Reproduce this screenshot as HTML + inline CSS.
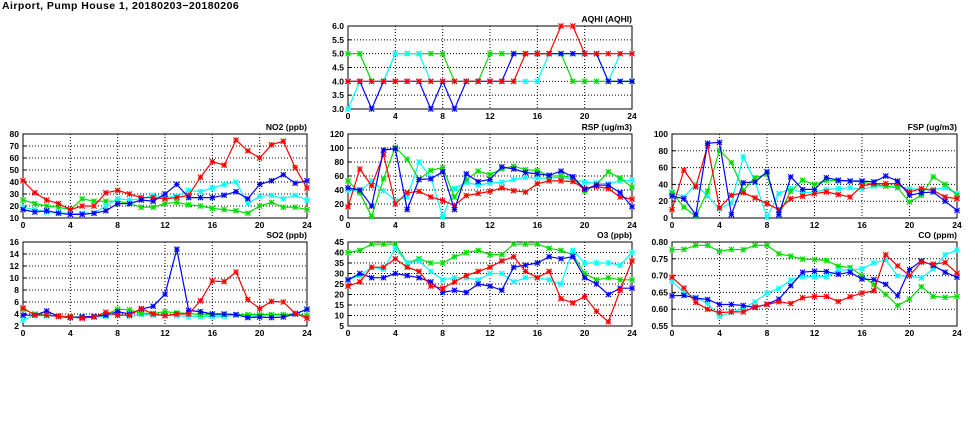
<!DOCTYPE html>
<html><head><meta charset="utf-8">
<style>
html,body{margin:0;padding:0;background:#fff;}
svg{display:block;font-family:"Liberation Sans",sans-serif;}
</style></head>
<body>
<svg id="chart" width="975" height="447" viewBox="0 0 975 447">
<text x="2" y="9" font-size="10.5" font-weight="bold" letter-spacing="0.45">Airport, Pump House 1, 20180203−20180206</text>
</svg>
<script>
const hours = [0,1,2,3,4,5,6,7,8,9,10,11,12,13,14,15,16,17,18,19,20,21,22,23,24];
const xTicks = [0,4,8,12,16,20,24];

const aqhiGreen = [5,5,4,4,5,5,5,5,5,4,4,4,5,5,5,5,5,5,5,4,4,4,4,4,4];
const aqhiCyan  = [3,4,4,4,5,5,5,4,4,4,4,4,4,4,4,4,4,5,5,5,5,5,4,5,5];
const aqhiBlue  = [4,4,3,4,4,4,4,3,4,3,4,4,4,4,5,5,5,5,5,5,5,5,4,4,4];
const aqhiRed   = [4,4,4,4,4,4,4,4,4,4,4,4,4,4,4,5,5,5,6,6,5,5,5,5,5];
const aqhiTicks = [3.0,3.5,4.0,4.5,5.0,5.5,6.0];

const no2Red   = [41,31,25,22,17,20,20,31,33,30,27,27,26,27,29,44,57,54,75,66,60,71,74,52,35];
const no2Blue  = [17,15,16,14,13,13,14,16,22,22,25,24,30,38,27,27,27,29,32,26,38,41,46,39,41];
const no2Cyan  = [19,17,15,15,13,14,14,20,26,25,26,29,27,28,33,32,35,38,40,22,28,29,26,29,25];
const no2Green = [25,22,20,19,17,26,24,24,24,22,19,19,22,23,21,20,18,17,16,14,20,23,19,19,17];
const no2Ticks = [10,20,30,40,50,60,70,80];

const rspRed   = [16,70,46,91,20,36,38,30,25,18,32,35,38,43,39,37,49,53,53,52,42,45,42,30,27];
const rspGreen = [53,36,2,56,101,84,55,68,72,30,55,67,62,70,74,69,68,60,60,58,38,48,66,57,44];
const rspBlue  = [43,40,17,97,99,12,55,56,66,12,63,52,55,73,70,65,63,61,67,59,41,47,47,36,16];
const rspCyan  = [40,38,53,39,25,30,80,58,2,42,51,47,50,51,55,58,57,57,58,55,51,50,49,53,54];
const rspTicks = [0,20,40,60,80,100,120];

const fspRed   = [10,57,37,86,12,27,30,24,17,10,23,26,29,31,28,25,38,41,41,41,31,35,33,25,23];
const fspGreen = [30,13,2,32,81,66,33,48,52,4,32,45,40,45,44,44,43,40,38,36,19,27,49,40,27];
const fspBlue  = [26,23,4,89,90,4,42,43,55,4,49,34,34,48,45,44,44,43,50,44,27,30,31,20,9];
const fspCyan  = [31,25,40,26,11,18,73,43,1,29,35,30,31,34,35,36,34,38,38,38,35,34,34,36,29];
const fspTicks = [0,20,40,60,80,100];

const so2Red   = [5,3.8,3.8,3.6,3.5,3.3,3.5,4.3,3.8,3.8,4.9,4.0,3.7,4.0,4.0,6.2,9.5,9.4,11,6.4,4.9,6.1,6,4.1,3.3];
const so2Blue  = [3.8,3.8,4.5,3.6,3.4,3.5,3.6,3.8,4.4,4,4.8,5.3,7.3,14.8,4.6,4.4,4,4,3.9,3.4,3.5,3.4,3.5,4,4.8];
const so2Green = [4.8,4.0,3.8,3.7,3.5,3.5,3.6,3.9,4.8,4.7,4.1,4.1,4.4,4.2,4.1,3.9,3.9,3.9,3.9,3.9,3.9,3.9,3.9,4,3.7];
const so2Cyan  = [3,3.8,3.7,3.6,3.5,3.5,3.5,3.6,4.0,3.6,3.9,3.8,3.8,3.7,3.6,3.6,3.6,3.6,3.8,3.6,3.7,3.9,3.8,4.1,4.7];
const so2Ticks = [2,4,6,8,10,12,14,16];

const o3Green = [40,41,44,44,44,35,37,35,35,38,40,41,39,39,44,44,44,42,41,39,30,27,28,27,27];
const o3Cyan  = [27,29,33,32,42,35,36,31,27,28,28,27,30,30,26,28,28,27,25,41,35,35,35,34,40];
const o3Red   = [24,26,33,33,37,33,31,24,23,26,29,31,33,36,38,31,28,31,18,16,19,12,7,22,36];
const o3Blue  = [27,30,28,28,30,29,28,26,21,22,21,25,24,22,33,34,35,38,37,38,28,25,20,23,23];
const o3Ticks = [5,10,15,20,25,30,35,40,45];

const coGreen = [0.777,0.778,0.79,0.79,0.772,0.778,0.777,0.79,0.79,0.765,0.758,0.749,0.748,0.745,0.728,0.724,0.70,0.673,0.644,0.611,0.63,0.667,0.638,0.635,0.638];
const coCyan  = [0.683,0.65,0.635,0.617,0.578,0.59,0.603,0.622,0.648,0.662,0.687,0.698,0.697,0.697,0.716,0.717,0.72,0.738,0.746,0.699,0.699,0.693,0.72,0.762,0.776];
const coRed   = [0.695,0.663,0.62,0.60,0.59,0.592,0.592,0.607,0.614,0.622,0.617,0.634,0.638,0.638,0.623,0.637,0.648,0.655,0.762,0.729,0.70,0.74,0.734,0.739,0.707];
const coBlue  = [0.64,0.641,0.633,0.629,0.614,0.614,0.611,0.605,0.615,0.63,0.67,0.71,0.713,0.712,0.704,0.71,0.69,0.688,0.674,0.64,0.718,0.744,0.73,0.71,0.695];
const coTicks = [0.55,0.60,0.65,0.70,0.75,0.80];

const NS = "http://www.w3.org/2000/svg";
const svg = document.getElementById('chart');
function mk(tag, attrs, parent){
  const e = document.createElementNS(NS, tag);
  for (const k in attrs) e.setAttribute(k, attrs[k]);
  (parent||svg).appendChild(e);
  return e;
}

function panel(key, title, box, ticks, dec, series){
  const g = mk('g', {});
  
  
  const [L, T, R, B] = box;
  const ymin = ticks[0], ymax = ticks[ticks.length-1];
  const sx = v => L + (v - 0) / 24 * (R - L);
  const sy = v => B - (v - ymin) / (ymax - ymin) * (B - T);
  ticks.forEach((t, i) => {
    if (i > 0 && i < ticks.length - 1) {
      const gl = mk('line', {x1:L, x2:R, y1:sy(t), y2:sy(t), stroke:'#000', 'stroke-width':1, 'stroke-dasharray':'1,2'}, g);
      
      
    }
    const tl = mk('text', {x:L-4, y:sy(t)+3, 'font-size':8.5, 'font-weight':'bold', 'text-anchor':'end'}, g);
    tl.textContent = t.toFixed(dec);
    
    
    const tk = mk('line', {x1:L, x2:L+3, y1:sy(t), y2:sy(t), stroke:'#000'}, g);
    
    
  });
  xTicks.forEach((t, i) => {
    if (i > 0 && i < xTicks.length - 1) {
      const gl = mk('line', {x1:sx(t), x2:sx(t), y1:T, y2:B, stroke:'#000', 'stroke-width':1, 'stroke-dasharray':'1,2'}, g);
      
      
    }
    const tl = mk('text', {x:sx(t), y:B+10, 'font-size':8.5, 'font-weight':'bold', 'text-anchor':'middle'}, g);
    tl.textContent = t;
    
    
  });
  const fr = mk('rect', {x:L, y:T, width:R-L, height:B-T, fill:'none', stroke:'#000', 'stroke-width':1}, g);
  
  
  const tt = mk('text', {x:R, y:T-4, 'font-size':8.5, 'font-weight':'bold', 'text-anchor':'end'}, g);
  tt.textContent = title;
  
  
  series.forEach(([name, color, vals]) => {
    const pts = vals.map((v, i) => sx(hours[i]).toFixed(1) + ',' + sy(v).toFixed(1)).join(' ');
    const pl = mk('polyline', {points:pts, fill:'none', stroke:color, 'stroke-width':1.2}, g);
    
    
    vals.forEach((v, i) => {
      const x = sx(hours[i]), y = sy(v), r = 2.6;
      const m = mk('path', {d:`M${x-r},${y}H${x+r}M${x},${y-r}V${y+r}M${x-r},${y-r}L${x+r},${y+r}M${x-r},${y+r}L${x+r},${y-r}`, stroke:color, 'stroke-width':1.1, fill:'none'}, g);
      
      
    });
  });
}

const G = '#00dd00', C = '#00ffff', BL = '#0000ff', RD = '#ff0000';
panel('aqhi', 'AQHI (AQHI)', [348, 26, 632, 109], aqhiTicks, 1,
  [['green', G, aqhiGreen], ['cyan', C, aqhiCyan], ['blue', BL, aqhiBlue], ['red', RD, aqhiRed]]);
panel('no2', 'NO2 (ppb)', [23, 134, 307, 218], no2Ticks, 0,
  [['green', G, no2Green], ['cyan', C, no2Cyan], ['red', RD, no2Red], ['blue', BL, no2Blue]]);
panel('rsp', 'RSP (ug/m3)', [348, 134, 632, 218], rspTicks, 0,
  [['cyan', C, rspCyan], ['green', G, rspGreen], ['red', RD, rspRed], ['blue', BL, rspBlue]]);
panel('fsp', 'FSP (ug/m3)', [672, 134, 957, 218], fspTicks, 0,
  [['cyan', C, fspCyan], ['green', G, fspGreen], ['red', RD, fspRed], ['blue', BL, fspBlue]]);
panel('so2', 'SO2 (ppb)', [23, 242, 307, 326], so2Ticks, 0,
  [['cyan', C, so2Cyan], ['green', G, so2Green], ['blue', BL, so2Blue], ['red', RD, so2Red]]);
panel('o3', 'O3 (ppb)', [348, 242, 632, 326], o3Ticks, 0,
  [['green', G, o3Green], ['cyan', C, o3Cyan], ['blue', BL, o3Blue], ['red', RD, o3Red]]);
panel('co', 'CO (ppm)', [672, 242, 957, 326], coTicks, 2,
  [['green', G, coGreen], ['cyan', C, coCyan], ['blue', BL, coBlue], ['red', RD, coRed]]);
</script>
</body></html>
